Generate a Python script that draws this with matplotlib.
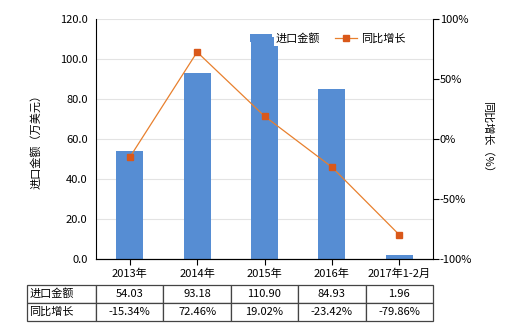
import matplotlib
matplotlib.use('Agg')
import matplotlib.pyplot as plt
import numpy as np

plt.rcParams['font.family'] = ['Noto Sans CJK SC', 'DejaVu Sans']
plt.rcParams['font.size'] = 8

# 数据
categories = ['2013年', '2014年', '2015年', '2016年', '2017年1-2月']
amount = [54.03, 93.18, 110.90, 84.93, 1.96]
growth = [-15.34, 72.46, 19.02, -23.42, -79.86]
amount_labels = ['54.03', '93.18', '110.90', '84.93', '1.96']
growth_labels = ['-15.34%', '72.46%', '19.02%', '-23.42%', '-79.86%']

bar_color = '#568DD3'
line_color = '#E8802E'
marker_color = '#D9581A'

fig = plt.figure(figsize=(5.2, 3.3), dpi=100)
ax = fig.add_axes([96 / 520, 71 / 330, 337 / 520, 240 / 330])
ax2 = ax.twinx()

x = np.arange(len(categories))
ax.bar(x, amount, width=0.4, color=bar_color, label='进口金额', zorder=2)
ax.set_ylim(0, 120)
ax.set_yticks(np.arange(0, 121, 20))
ax.set_yticklabels(['{:.1f}'.format(v) for v in np.arange(0, 121, 20)])
ax.set_xlim(-0.5, len(categories) - 0.5)
ax.set_xticks(x)
ax.set_xticklabels(categories)
ax.grid(axis='y', color='#e3e3e3', linewidth=0.8, zorder=0)
ax.set_axisbelow(True)
ax.tick_params(axis='y', length=0, pad=6)
ax.tick_params(axis='x', length=4, pad=3)
ax.set_ylabel('进口金额（万美元）', labelpad=13)
for s in ['top', 'right']:
    ax.spines[s].set_visible(False)

ax2.plot(x, growth, color=line_color, linewidth=0.9, marker='s', markersize=5,
         markerfacecolor=marker_color, markeredgecolor=marker_color, label='同比增长', zorder=3)
ax2.set_ylim(-100, 100)
ax2.set_yticks([-100, -50, 0, 50, 100])
ax2.set_yticklabels(['-100%', '-50%', '0%', '50%', '100%'])
ax2.tick_params(axis='y', length=4, pad=1)
ax2.set_ylabel('同比增长（%）', rotation=-90, labelpad=15)
for s in ['top', 'left']:
    ax2.spines[s].set_visible(False)

h1, l1 = ax.get_legend_handles_labels()
h2, l2 = ax2.get_legend_handles_labels()
leg = ax2.legend(h1 + h2, l1 + l2, loc='upper left', bbox_to_anchor=((242 - 96) / 337, 0.975), ncol=2,
                 frameon=False, handlelength=2.0, handletextpad=0.35,
                 columnspacing=1.3, borderpad=0.2)
leg.get_texts()[0].set_bbox(dict(facecolor='white', edgecolor='none', pad=1.5))

# 表格
cell_text = [['进口金额'] + amount_labels, ['同比增长'] + growth_labels]
first_w = 69 / 337
other_w = 1.0 / len(categories)
tbl = ax.table(cellText=cell_text, colWidths=[first_w] + [other_w] * len(categories),
               bbox=[(27 - 96) / 337, -62 / 240, first_w + 1.0, 36 / 240],
               cellLoc='center')
tbl.auto_set_font_size(False)
tbl.set_fontsize(8)
for (r, c), cell in tbl.get_celld().items():
    cell.set_edgecolor('#444444')
    cell.set_linewidth(0.9)
    if c == 0:
        cell.set_text_props(ha='left')
        cell._loc = 'left'
        cell.PAD = 0.03

fig.savefig('out.png', dpi=100)
